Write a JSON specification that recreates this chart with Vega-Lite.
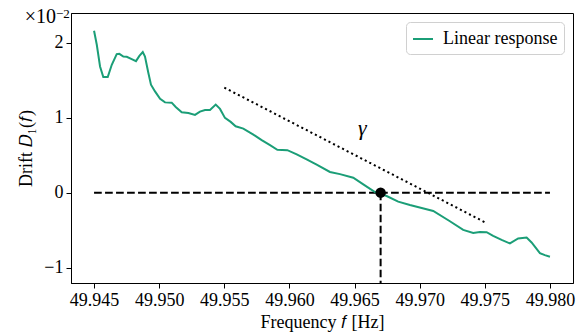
{
  "$schema": "https://vega.github.io/schema/vega-lite/v6.json",
  "width": 502,
  "height": 270,
  "autosize": {"type": "none"},
  "padding": {"left": 71, "top": 13, "right": 14, "bottom": 50},
  "background": "white",
  "datasets": {
    "curve": [
      {"f": 49.94500, "D": 2.157, "series": "Linear response"},
      {"f": 49.94521, "D": 1.971, "series": "Linear response"},
      {"f": 49.94546, "D": 1.681, "series": "Linear response"},
      {"f": 49.94571, "D": 1.541, "series": "Linear response"},
      {"f": 49.94605, "D": 1.541, "series": "Linear response"},
      {"f": 49.94636, "D": 1.704, "series": "Linear response"},
      {"f": 49.94674, "D": 1.846, "series": "Linear response"},
      {"f": 49.94694, "D": 1.850, "series": "Linear response"},
      {"f": 49.94725, "D": 1.814, "series": "Linear response"},
      {"f": 49.94751, "D": 1.810, "series": "Linear response"},
      {"f": 49.94789, "D": 1.780, "series": "Linear response"},
      {"f": 49.94822, "D": 1.753, "series": "Linear response"},
      {"f": 49.94848, "D": 1.823, "series": "Linear response"},
      {"f": 49.94874, "D": 1.873, "series": "Linear response"},
      {"f": 49.94891, "D": 1.814, "series": "Linear response"},
      {"f": 49.94917, "D": 1.594, "series": "Linear response"},
      {"f": 49.94937, "D": 1.438, "series": "Linear response"},
      {"f": 49.94968, "D": 1.349, "series": "Linear response"},
      {"f": 49.95007, "D": 1.252, "series": "Linear response"},
      {"f": 49.95045, "D": 1.203, "series": "Linear response"},
      {"f": 49.95096, "D": 1.199, "series": "Linear response"},
      {"f": 49.95127, "D": 1.142, "series": "Linear response"},
      {"f": 49.95173, "D": 1.070, "series": "Linear response"},
      {"f": 49.95224, "D": 1.062, "series": "Linear response"},
      {"f": 49.95275, "D": 1.036, "series": "Linear response"},
      {"f": 49.95313, "D": 1.080, "series": "Linear response"},
      {"f": 49.95352, "D": 1.100, "series": "Linear response"},
      {"f": 49.95390, "D": 1.102, "series": "Linear response"},
      {"f": 49.95434, "D": 1.173, "series": "Linear response"},
      {"f": 49.95467, "D": 1.116, "series": "Linear response"},
      {"f": 49.95505, "D": 0.996, "series": "Linear response"},
      {"f": 49.95549, "D": 0.943, "series": "Linear response"},
      {"f": 49.95587, "D": 0.884, "series": "Linear response"},
      {"f": 49.95646, "D": 0.854, "series": "Linear response"},
      {"f": 49.95723, "D": 0.774, "series": "Linear response"},
      {"f": 49.95787, "D": 0.699, "series": "Linear response"},
      {"f": 49.95851, "D": 0.632, "series": "Linear response"},
      {"f": 49.95907, "D": 0.571, "series": "Linear response"},
      {"f": 49.95984, "D": 0.566, "series": "Linear response"},
      {"f": 49.96056, "D": 0.509, "series": "Linear response"},
      {"f": 49.96132, "D": 0.442, "series": "Linear response"},
      {"f": 49.96209, "D": 0.372, "series": "Linear response"},
      {"f": 49.96311, "D": 0.276, "series": "Linear response"},
      {"f": 49.96388, "D": 0.247, "series": "Linear response"},
      {"f": 49.96490, "D": 0.199, "series": "Linear response"},
      {"f": 49.96567, "D": 0.110, "series": "Linear response"},
      {"f": 49.96657, "D": 0.008, "series": "Linear response"},
      {"f": 49.96695, "D": -0.013, "series": "Linear response"},
      {"f": 49.96746, "D": -0.045, "series": "Linear response"},
      {"f": 49.96835, "D": -0.120, "series": "Linear response"},
      {"f": 49.96925, "D": -0.165, "series": "Linear response"},
      {"f": 49.97015, "D": -0.205, "series": "Linear response"},
      {"f": 49.97104, "D": -0.244, "series": "Linear response"},
      {"f": 49.97232, "D": -0.381, "series": "Linear response"},
      {"f": 49.97334, "D": -0.497, "series": "Linear response"},
      {"f": 49.97411, "D": -0.537, "series": "Linear response"},
      {"f": 49.97462, "D": -0.523, "series": "Linear response"},
      {"f": 49.97514, "D": -0.527, "series": "Linear response"},
      {"f": 49.97564, "D": -0.576, "series": "Linear response"},
      {"f": 49.97629, "D": -0.629, "series": "Linear response"},
      {"f": 49.97693, "D": -0.677, "series": "Linear response"},
      {"f": 49.97756, "D": -0.611, "series": "Linear response"},
      {"f": 49.97821, "D": -0.598, "series": "Linear response"},
      {"f": 49.97859, "D": -0.664, "series": "Linear response"},
      {"f": 49.97923, "D": -0.806, "series": "Linear response"},
      {"f": 49.97961, "D": -0.833, "series": "Linear response"},
      {"f": 49.98000, "D": -0.855, "series": "Linear response"}
    ],
    "hline": [{"f": 49.945, "f2": 49.980, "D": 0}],
    "vline": [{"f": 49.967, "D": 0, "D2": -1.204}],
    "gamma": [{"f": 49.955, "f2": 49.975, "D": 1.40, "D2": -0.394}],
    "crossing": [{"f": 49.967, "D": 0}],
    "gammaLabel": [{"f": 49.9656, "D": 0.867, "label": "γ"}],
    "offsetBase": [{"f": 49.94323, "D": 2.394, "label": "×10"}],
    "offsetExp": [{"f": 49.94323, "D": 2.394, "label": "−2"}]
  },
  "layer": [
    {
      "data": {"name": "hline"},
      "mark": {"type": "rule", "color": "black", "strokeWidth": 2, "strokeDash": [7.7, 3.3]},
      "encoding": {
        "x": {"field": "f", "type": "quantitative"},
        "x2": {"field": "f2"},
        "y": {"field": "D", "type": "quantitative"}
      }
    },
    {
      "data": {"name": "vline"},
      "mark": {"type": "rule", "color": "black", "strokeWidth": 2, "strokeDash": [7.7, 3.3]},
      "encoding": {
        "x": {"field": "f", "type": "quantitative"},
        "y": {"field": "D", "type": "quantitative"},
        "y2": {"field": "D2"}
      }
    },
    {
      "data": {"name": "gamma"},
      "mark": {"type": "rule", "color": "black", "strokeWidth": 2, "strokeDash": [2.1, 3.0]},
      "encoding": {
        "x": {"field": "f", "type": "quantitative"},
        "x2": {"field": "f2"},
        "y": {"field": "D", "type": "quantitative"},
        "y2": {"field": "D2"}
      }
    },
    {
      "data": {"name": "curve"},
      "mark": {"type": "line", "strokeWidth": 2},
      "encoding": {
        "x": {
          "field": "f", "type": "quantitative",
          "scale": {"domain": [49.94323, 49.98177], "nice": false, "zero": false},
          "axis": {"values": [49.945, 49.95, 49.955, 49.96, 49.965, 49.97, 49.975, 49.98], "format": ".3f", "title": "Frequency 𝑓 [Hz]"}
        },
        "y": {
          "field": "D", "type": "quantitative",
          "scale": {"domain": [-1.204, 2.394], "nice": false, "zero": false},
          "axis": {"values": [-1, 0, 1, 2], "format": "d", "title": "Drift 𝐷₁(𝑓)"}
        },
        "color": {
          "field": "series", "type": "nominal",
          "scale": {"range": ["#1b9e77"]},
          "legend": {"title": null}
        }
      }
    },
    {
      "data": {"name": "crossing"},
      "mark": {"type": "point", "filled": true, "color": "black", "size": 110, "opacity": 1},
      "encoding": {
        "x": {"field": "f", "type": "quantitative"},
        "y": {"field": "D", "type": "quantitative"}
      }
    },
    {
      "data": {"name": "gammaLabel"},
      "mark": {"type": "text", "font": "Liberation Serif", "fontStyle": "italic", "fontSize": 22, "color": "black", "align": "center", "baseline": "middle"},
      "encoding": {
        "x": {"field": "f", "type": "quantitative"},
        "y": {"field": "D", "type": "quantitative"},
        "text": {"field": "label"}
      }
    },
    {
      "data": {"name": "offsetBase"},
      "mark": {"type": "text", "font": "Liberation Serif", "fontSize": 20, "color": "black", "align": "right", "baseline": "alphabetic", "dx": -15, "dy": 10},
      "encoding": {
        "x": {"field": "f", "type": "quantitative"},
        "y": {"field": "D", "type": "quantitative"},
        "text": {"field": "label"}
      }
    },
    {
      "data": {"name": "offsetExp"},
      "mark": {"type": "text", "font": "Liberation Serif", "fontSize": 13, "color": "black", "align": "left", "baseline": "alphabetic", "dx": -15, "dy": 5},
      "encoding": {
        "x": {"field": "f", "type": "quantitative"},
        "y": {"field": "D", "type": "quantitative"},
        "text": {"field": "label"}
      }
    }
  ],
  "config": {
    "view": {"stroke": "black", "strokeWidth": 1},
    "font": "Liberation Serif",
    "axis": {
      "grid": false,
      "domainColor": "black",
      "domainWidth": 1,
      "tickColor": "black",
      "tickSize": 5,
      "tickWidth": 1,
      "labelFont": "Liberation Serif",
      "labelFontSize": 18,
      "labelColor": "black",
      "labelPadding": 3,
      "titleFont": "Liberation Serif",
      "titleFontSize": 18,
      "titleFontWeight": "normal",
      "titleColor": "black"
    },
    "axisX": {"titlePadding": 4},
    "axisY": {"titlePadding": 8},
    "legend": {
      "orient": "top-right",
      "offset": 9,
      "padding": 6,
      "cornerRadius": 4,
      "strokeColor": "#d0d0d0",
      "fillColor": "white",
      "labelFont": "Liberation Serif",
      "labelFontSize": 18,
      "labelColor": "black",
      "labelOffset": 9,
      "symbolType": "stroke",
      "symbolStrokeWidth": 2,
      "symbolSize": 400
    }
  }
}
